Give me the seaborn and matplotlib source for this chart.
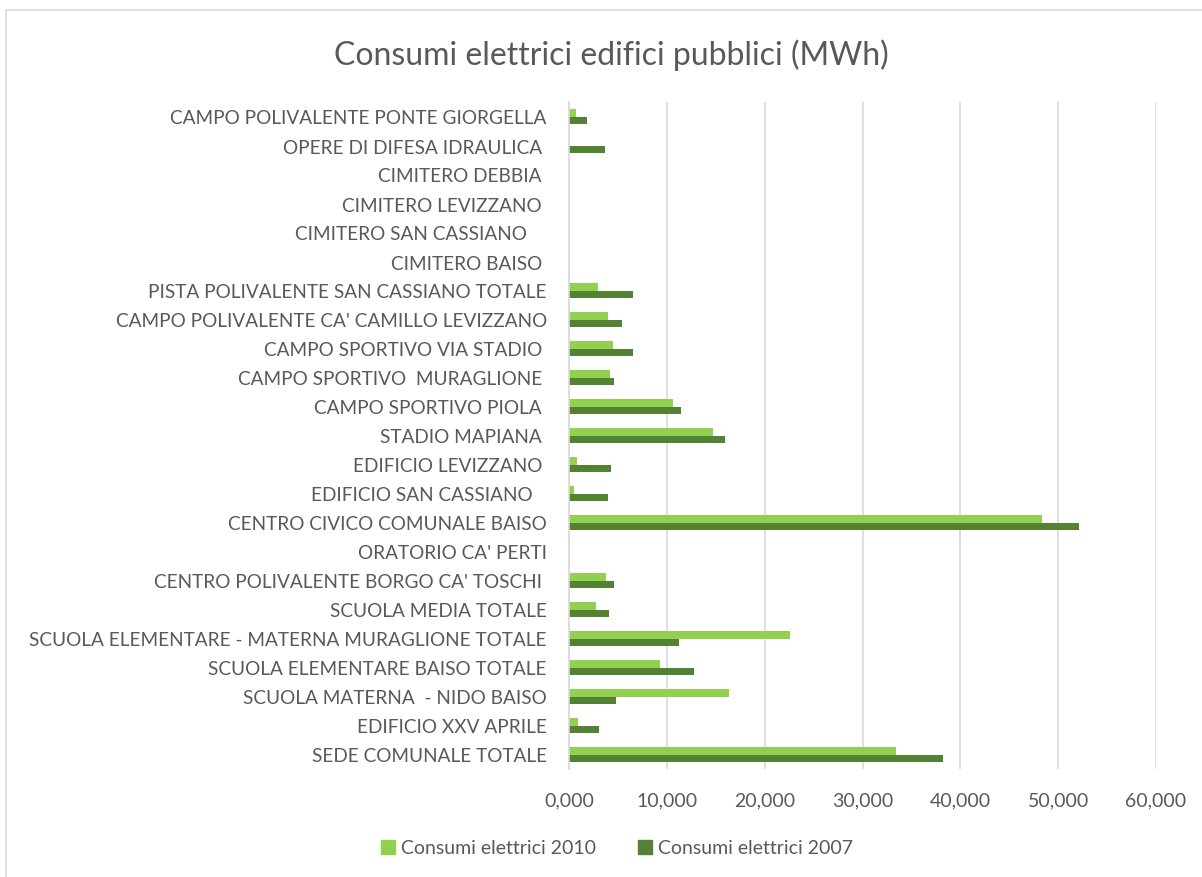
import pandas as pd
import matplotlib.pyplot as plt
import matplotlib.patches as mpatches
import seaborn as sns
from matplotlib.ticker import FuncFormatter, MultipleLocator

# categories, top to bottom as in the chart
buildings = ['CAMPO POLIVALENTE PONTE GIORGELLA', 'OPERE DI DIFESA IDRAULICA ',
             'CIMITERO DEBBIA ', 'CIMITERO LEVIZZANO ', 'CIMITERO SAN CASSIANO    ',
             'CIMITERO BAISO ', 'PISTA POLIVALENTE SAN CASSIANO TOTALE',
             "CAMPO POLIVALENTE CA' CAMILLO LEVIZZANO", 'CAMPO SPORTIVO VIA STADIO ',
             'CAMPO SPORTIVO  MURAGLIONE ', 'CAMPO SPORTIVO PIOLA ', 'STADIO MAPIANA ',
             'EDIFICIO LEVIZZANO ', 'EDIFICIO SAN CASSIANO   ', 'CENTRO CIVICO COMUNALE BAISO',
             "ORATORIO CA' PERTI", "CENTRO POLIVALENTE BORGO CA' TOSCHI ",
             'SCUOLA MEDIA TOTALE', 'SCUOLA ELEMENTARE - MATERNA MURAGLIONE TOTALE',
             'SCUOLA ELEMENTARE BAISO TOTALE', 'SCUOLA MATERNA  - NIDO BAISO',
             'EDIFICIO XXV APRILE', 'SEDE COMUNALE TOTALE']

# consumption in MWh
cons_2010 = [0.75, 0.05, 0, 0, 0, 0, 2.98, 3.97, 4.48, 4.24, 10.60, 14.74,
             0.79, 0.48, 48.30, 0, 3.79, 2.80, 22.60, 9.30, 16.38, 0.96, 33.40]
cons_2007 = [1.82, 3.73, 0, 0, 0, 0, 6.50, 5.37, 6.53, 4.58, 11.42, 15.93,
             4.31, 4.00, 52.15, 0, 4.58, 4.07, 11.25, 12.79, 4.85, 3.11, 38.24]

series_names = ['Consumi elettrici 2010', 'Consumi elettrici 2007']
xticks = [0, 10, 20, 30, 40, 50, 60]

df = pd.DataFrame({
    'Edificio': buildings * 2,
    'MWh': cons_2010 + cons_2007,
    'Serie': [series_names[0]] * len(buildings) + [series_names[1]] * len(buildings),
})

sns.set_style('white')
plt.rcParams['font.family'] = ['Lato', 'DejaVu Sans']
text_col = '#595959'
light, dark = '#92D050', '#548235'

fig = plt.figure(figsize=(12.02, 8.78), dpi=100)
ax = fig.add_axes([569 / 1202, 1 - 770 / 878, (1156 - 569) / 1202, (770 - 103) / 878])

sns.barplot(data=df, x='MWh', y='Edificio', hue='Serie', hue_order=series_names,
            palette=[light, dark], saturation=1, orient='h', width=0.52, gap=0,
            linewidth=0, ax=ax, legend=False)

ax.set_xlim(xticks[0], xticks[-1])
ax.xaxis.set_major_locator(MultipleLocator(10))
ax.xaxis.set_major_formatter(FuncFormatter(lambda v, p: f'{v:.3f}'.replace('.', ',')))
ax.grid(axis='x', color='#D9D9D9', linewidth=1.2)
ax.set_axisbelow(True)
for s in ['top', 'right', 'bottom']:
    ax.spines[s].set_visible(False)
ax.spines['left'].set_color('#D9D9D9')
ax.spines['left'].set_linewidth(1.2)
ax.tick_params(axis='x', length=0, pad=16, labelsize=14, labelcolor=text_col)
ax.tick_params(axis='y', length=0, pad=16, labelsize=13.7, labelcolor=text_col)
ax.set_xlabel('')
ax.set_ylabel('')

fig.text(611 / 1202, 1 - 55 / 878, 'Consumi elettrici edifici pubblici (MWh)',
         ha='center', va='center', fontsize=23, color=text_col)

handles = [mpatches.Patch(color=light, label=series_names[0]),
           mpatches.Patch(color=dark, label=series_names[1])]
fig.legend(handles=handles, loc='center', bbox_to_anchor=(617 / 1202, 1 - 849 / 878),
           ncol=2, frameon=False, fontsize=14, labelcolor=text_col,
           handlelength=0.7, handleheight=0.7, handletextpad=0.3, columnspacing=2.2)

# chart border
fig.patches.append(mpatches.Rectangle((6 / 1202, -0.1), 1.1, 1 - 11 / 878 + 0.1,
                                      transform=fig.transFigure, fill=False,
                                      edgecolor='#D9D9D9', linewidth=1.2))

fig.savefig('out.png', dpi=100)
